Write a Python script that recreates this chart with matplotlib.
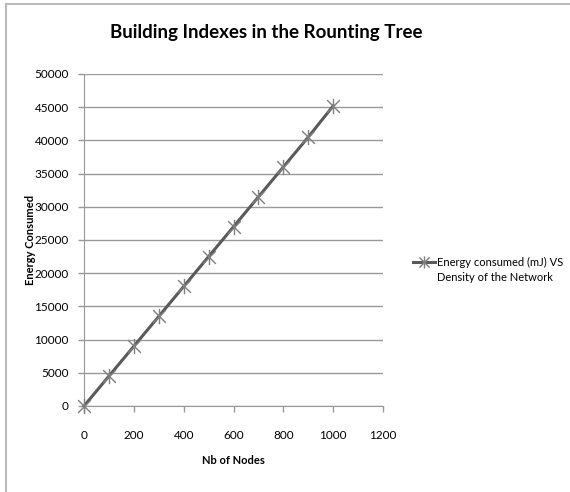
import matplotlib.pyplot as plt
from matplotlib.lines import Line2D
from matplotlib.path import Path

nodes = [0, 100, 200, 300, 400, 500, 600, 700, 800, 900, 1000]
energy = [0, 4500, 9000, 13500, 18000, 22500, 27000, 31500, 36000, 40500, 45200]
x_ticks = [0, 200, 400, 600, 800, 1000, 1200]
y_ticks = list(range(0, 50001, 5000))
legend_lines = ["Energy consumed (mJ) VS", "Density of the Network"]

plt.rcParams["font.family"] = ["Lato", "DejaVu Sans"]

# Excel-style asterisk marker: an X with a vertical bar
star = Path(
    [(-1, -1), (1, 1), (-1, 1), (1, -1), (0, -1.2), (0, 1.2)],
    [Path.MOVETO, Path.LINETO, Path.MOVETO, Path.LINETO, Path.MOVETO, Path.LINETO],
)

fig = plt.figure(figsize=(5.7, 4.92), dpi=100)
ax = fig.add_axes([0.1474, 0.1748, 0.5246, 0.6748])

line, = ax.plot(nodes, energy, color="#5a5a5a", lw=2.2, marker=star, ms=11,
                mec="#808080", mew=1.0, zorder=3, clip_on=False)

ax.set_xlim(0, 1200)
ax.set_ylim(0, 50000)
ax.set_xticks(x_ticks)
ax.set_yticks(y_ticks)
ax.grid(axis="y", color="#999999", lw=1.0)
ax.set_axisbelow(True)
for s in ("top", "right"):
    ax.spines[s].set_visible(False)
for s in ("left", "bottom"):
    ax.spines[s].set_color("#999999")
ax.tick_params(axis="both", colors="#999999", labelcolor="black", labelsize=8.5,
               length=4, width=1.0, direction="out")
ax.tick_params(axis="x", pad=13)
ax.tick_params(axis="y", pad=7)

ax.set_xlabel("Nb of Nodes", fontsize=8, fontweight="bold")
ax.set_ylabel("Energy Consumed", fontsize=8, fontweight="bold")
ax.xaxis.set_label_coords(0.5, -0.148)
ax.yaxis.set_label_coords(-0.16, 0.5)

fig.text(0.467, 0.933, "Building Indexes in the Rounting Tree", ha="center",
         va="center", fontsize=13.5, fontweight="bold")

# handle sits on the first text line, second line has no handle (Excel style)
blank = Line2D([], [], linestyle="none")
fig.legend([line, blank], legend_lines, loc="center left",
           bbox_to_anchor=(0.7246, 0.451), frameon=False, fontsize=8,
           handlelength=2.0, handletextpad=0.15, borderpad=0,
           borderaxespad=0, labelspacing=0.35, markerscale=0.8)

# chart frame on the left and top edges
fig.add_artist(Line2D([0.010, 0.010], [0.0, 0.992], color="#bbbbbb", lw=1.5))
fig.add_artist(Line2D([0.010, 1.0], [0.992, 0.992], color="#bbbbbb", lw=1.5))

fig.savefig("out.png", dpi=100)
